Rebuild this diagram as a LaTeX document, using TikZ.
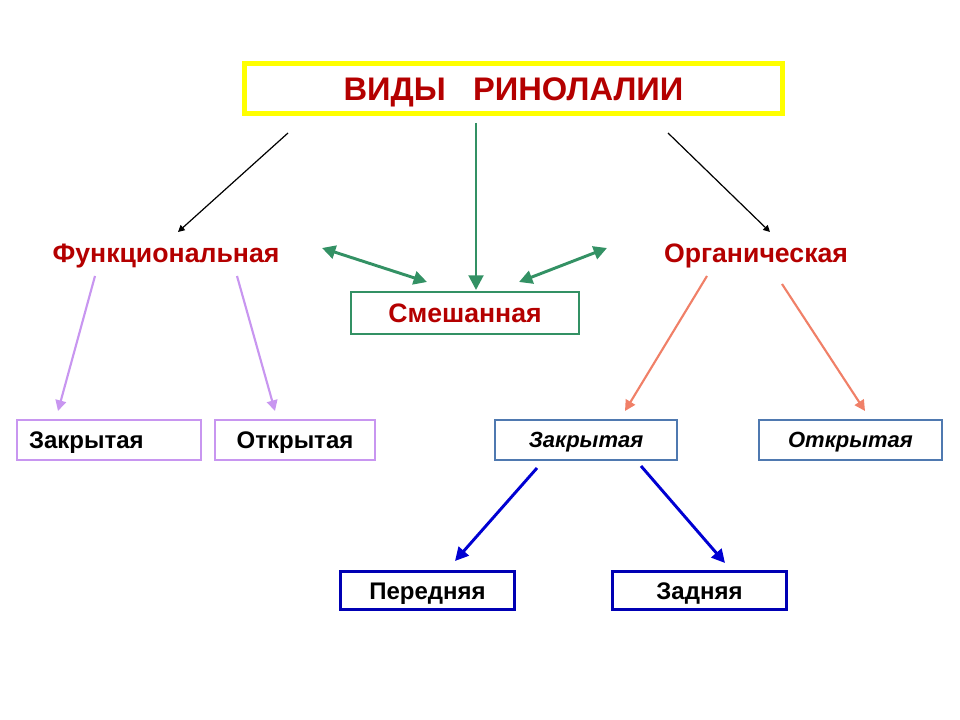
\documentclass[tikz,border=0pt]{standalone}
\usepackage{fontspec}
\setmainfont{Liberation Sans}
\usetikzlibrary{arrows.meta}
\definecolor{titlered}{RGB}{180,0,0}
\definecolor{frameyellow}{RGB}{255,255,0}
\definecolor{mixgreen}{RGB}{51,145,100}
\definecolor{lilac}{RGB}{200,150,240}
\definecolor{salmon}{RGB}{240,128,104}
\definecolor{steel}{RGB}{79,121,176}
\definecolor{navy}{RGB}{0,0,180}
\definecolor{arrowblue}{RGB}{0,0,210}
\tikzset{
  kind/.style={
    font=\fontsize{20}{24}\selectfont\bfseries,
    text=titlered,
    text height=14.3pt, text depth=0pt,
  },
  leaf/.style={
    draw=#1, fill=white,
    line width=1.8pt,
    minimum height=30pt,
    text height=12.9pt, text depth=0pt,
    font=\fontsize{18}{21}\selectfont\bfseries,
  },
  slanted/.style={
    font=\fontsize{16.5}{20}\selectfont\bfseries\itshape,
    text height=11.8pt,
  },
  link/.style={
    draw=#1, line width=1.6pt,
    -{Triangle[length=8pt, width=8pt]},
  },
}

\begin{document}
\begin{tikzpicture}[x=0.75pt, y=-0.75pt]
\useasboundingbox (0,0) rectangle (960,720);

% title and the three kinds
\node[draw=frameyellow, line width=3.75pt, minimum width=404pt,
  minimum height=37.5pt, text=titlered, text height=17.5pt, text depth=0pt,
  font=\fontsize{24.5}{28}\selectfont\bfseries] (title) at (513.5,89)
  {ВИДЫ\ \ \ РИНОЛАЛИИ};
\node[kind] (func) at (166,253) {Функциональная};
\node[kind] (organic) at (756,253) {Органическая};
\node[kind, draw=mixgreen, line width=1.5pt, minimum width=171pt,
  minimum height=31.5pt] (mixed) at (465,313) {Смешанная};

% closed and open forms
\node[leaf=lilac, minimum width=138pt, inner xsep=9pt, text width=120pt,
  align=left] (closed-f) at (109,440) {Закрытая};
\node[leaf=lilac, minimum width=120pt] (open-f) at (295,440) {Открытая};
\node[leaf=steel, slanted, minimum width=136.5pt] (closed-o) at (586,440)
  {Закрытая};
\node[leaf=steel, slanted, minimum width=137pt] (open-o) at (850.5,440)
  {Открытая};
\node[leaf=navy, line width=2.2pt, minimum width=131pt, minimum height=29pt]
  (front) at (427.5,590.5) {Передняя};
\node[leaf=navy, line width=2.2pt, minimum width=131pt, minimum height=29pt]
  (back) at (699.5,590.5) {Задняя};

% free ends of the arrows
\coordinate (title-l) at (288,133);
\coordinate (title-m) at (476,123);
\coordinate (title-r) at (668,133);
\coordinate (func-in) at (178,232);
\coordinate (organic-in) at (770,232);
\coordinate (mixed-in) at (476,290);
\coordinate (func-mix) at (322,248);
\coordinate (mix-func) at (427,282);
\coordinate (organic-mix) at (607,248);
\coordinate (mix-organic) at (519,282);
\coordinate (func-l) at (95,276);
\coordinate (func-r) at (237,276);
\coordinate (closed-f-in) at (58,411);
\coordinate (open-f-in) at (275,411);
\coordinate (organic-l) at (707,276);
\coordinate (organic-r) at (782,284);
\coordinate (closed-o-in) at (625,411);
\coordinate (open-o-in) at (865,411);
\coordinate (closed-o-l) at (537,468);
\coordinate (closed-o-r) at (641,466);
\coordinate (front-in) at (455,561);
\coordinate (back-in) at (725,563);

\draw[link=black, line width=0.9pt, -{Triangle[length=5pt, width=5pt]}]
  (title-l) -- (func-in);
\draw[link=black, line width=0.9pt, -{Triangle[length=5pt, width=5pt]}]
  (title-r) -- (organic-in);
\draw[link=mixgreen, line width=2.2pt, -{Triangle[length=11pt, width=11pt]}]
  (title-m) -- (mixed-in);
\draw[link=mixgreen, line width=2.2pt,
  {Triangle[length=10pt, width=10pt]}-{Triangle[length=10pt, width=10pt]}]
  (func-mix) -- (mix-func);
\draw[link=mixgreen, line width=2.2pt,
  {Triangle[length=10pt, width=10pt]}-{Triangle[length=10pt, width=10pt]}]
  (organic-mix) -- (mix-organic);
\draw[link=lilac] (func-l) -- (closed-f-in);
\draw[link=lilac] (func-r) -- (open-f-in);
\draw[link=salmon] (organic-l) -- (closed-o-in);
\draw[link=salmon] (organic-r) -- (open-o-in);
\draw[link=arrowblue, line width=2.2pt, -{Triangle[length=10pt, width=10pt]}]
  (closed-o-l) -- (front-in);
\draw[link=arrowblue, line width=2.2pt, -{Triangle[length=10pt, width=10pt]}]
  (closed-o-r) -- (back-in);
\end{tikzpicture}
\end{document}
